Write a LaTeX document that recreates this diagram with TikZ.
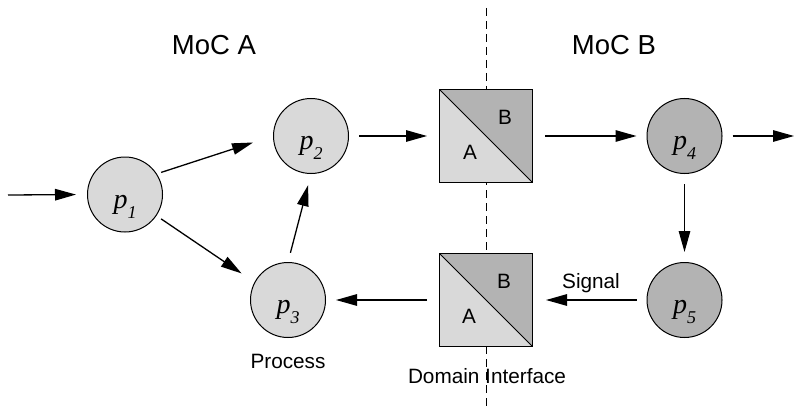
\documentclass[tikz,border=0pt]{standalone}
\usepackage{fontspec}
\setmainfont{Liberation Sans}
\newfontfamily\pfont{Liberation Serif}
\usetikzlibrary{arrows.meta}
\definecolor{lightfill}{HTML}{D9D9D9}
\definecolor{darkfill}{HTML}{B3B3B3}
\newcommand\plabel[1]{\raisebox{-13.5pt}[0pt][0pt]{\pfont\itshape\fontsize{28}{28}\selectfont p\raisebox{-10pt}{\fontsize{18}{18}\selectfont #1}}}
\tikzset{
  proc/.style={circle, draw, line width=1pt, minimum size=75pt, inner sep=0pt, fill=lightfill},
  procB/.style={proc, fill=darkfill},
  iface/.style={rectangle, draw, line width=1pt, minimum size=93pt, inner sep=0pt, fill=lightfill,
    path picture={
      \fill[darkfill] (path picture bounding box.north west) -- (path picture bounding box.north east) -- (path picture bounding box.south east) -- cycle;
      \draw[line width=1pt] (path picture bounding box.north west) -- (path picture bounding box.south east);}},
  conn/.style={-{Triangle[length=21pt,width=11.5pt]}, line width=1.3pt},
  small/.style={font=\fontsize{20.75}{20.75}\selectfont, anchor=base, inner sep=0pt},
  big/.style={font=\fontsize{27.5}{27.5}\selectfont, anchor=base, inner sep=0pt},
  divider/.style={line width=1pt, dash pattern=on 8pt off 5pt}
}
\begin{document}
\begin{tikzpicture}[x=1pt, y=-1pt]
\useasboundingbox (0,0) rectangle (794,409);
% divider
\coordinate (dtop) at (486,8);
\coordinate (dbot) at (486,409);
\draw[divider] (dtop) -- (dbot);
% titles
\node[big] (mocA) at (214,55) {MoC A};
\node[big] (mocB) at (614,55) {MoC B};
% processes
\node[proc] (p1) at (125,194.5) {\plabel{1}};
\node[proc] (p2) at (311,136) {\plabel{2}};
\node[proc] (p3) at (288,300) {\plabel{3}};
\node[procB] (p4) at (684.5,136) {\plabel{4}};
\node[procB] (p5) at (684.5,300) {\plabel{5}};
% interfaces
\node[iface] (box1) at (486,136) {};
\node[iface] (box2) at (486,300) {};
\node[small] (a1) at ([shift={(-16,23.5)}]box1.center) {A};
\node[small] (b1) at ([shift={(19,-11.5)}]box1.center) {B};
\node[small] (a2) at ([shift={(-17,23)}]box2.center) {A};
\node[small] (b2) at ([shift={(18,-12)}]box2.center) {B};
% labels
\node[small] (lproc) at (288,368) {Process};
\node[small] (ldom) at (487,383) {Domain Interface};
\node[small] (lsig) at (591,288) {Signal};
% connectors
\coordinate (in0) at (8,195);
\coordinate (out0) at (794,136);
\draw[conn, shorten >=11pt] (in0) -- (p1.west);
\draw[conn, shorten <=4.5pt, shorten >=21pt] (p1.33) -- (p2.west);
\draw[conn, shorten <=5.5pt, shorten >=15.5pt] (p1.-34) -- (p3.152);
\draw[conn, shorten <=9.5pt, shorten >=11.5pt] (p3.north) -- (p2.south);
\draw[conn, shorten <=10pt, shorten >=12pt] (p2.east) -- (box1.west);
\draw[conn, shorten <=12pt, shorten >=10pt] (box1.east) -- (p4.west);
\draw[conn, shorten <=10pt] (p4.east) -- (out0);
\draw[conn, shorten <=10pt, shorten >=10pt] (p4.south) -- (p5.north);
\draw[conn, shorten <=10pt, shorten >=13pt] (p5.west) -- (box2.east);
\draw[conn, shorten <=12pt, shorten >=10pt] (box2.west) -- (p3.east);
\end{tikzpicture}
\end{document}
